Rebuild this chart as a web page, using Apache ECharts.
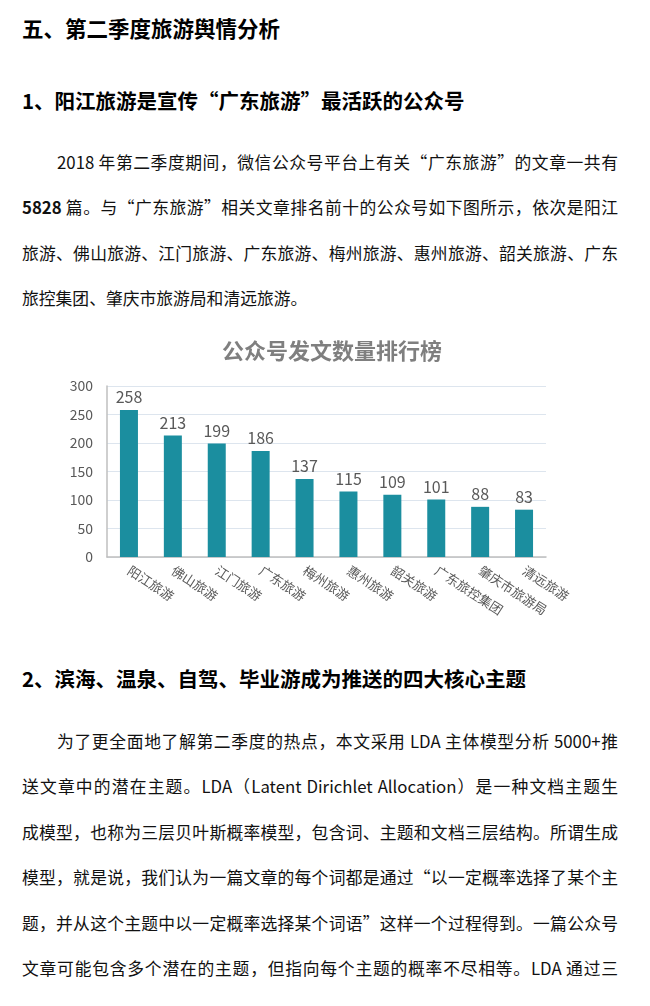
<!DOCTYPE html>
<html>
<head>
<meta charset="utf-8">
<title>第二季度旅游舆情分析</title>
<script src="https://cdn.jsdelivr.net/npm/echarts@6/dist/echarts.min.js"></script>
<style>
  html, body { margin: 0; padding: 0; background: #fff; }
  body { width: 650px; height: 1006px; position: relative; overflow: hidden;
         font-family: "Noto Sans CJK SC", "Noto Sans", sans-serif; color: #111; }
  .h1 { position: absolute; left: 22px; top: 13px; font-size: 21.5px; font-weight: bold; line-height: 30px; color: #000; }
  .h2 { position: absolute; left: 22px; font-size: 20.5px; font-weight: bold; line-height: 30px; color: #000; }
  .para { position: absolute; left: 22px; width: 596px; font-size: 16.8px; line-height: 45.4px; }
  .para div { text-align: justify; text-align-last: justify; white-space: nowrap; }
  .para div.first { padding-left: 35px; }
  .para div.last { text-align-last: left; }
  #chart { position: absolute; left: 0; top: 330px; width: 650px; height: 320px; }
</style>
</head>
<body>

<div class="h1">五、第二季度旅游舆情分析</div>
<div class="h2" style="top:85px">1、阳江旅游是宣传“广东旅游”最活跃的公众号</div>

<div class="para" style="top:140px">
  <div class="first">2018 年第二季度期间，微信公众号平台上有关“广东旅游”的文章一共有</div>
  <div><b>5828</b> 篇。与“广东旅游”相关文章排名前十的公众号如下图所示，依次是阳江</div>
  <div>旅游、佛山旅游、江门旅游、广东旅游、梅州旅游、惠州旅游、韶关旅游、广东</div>
  <div class="last">旅控集团、肇庆市旅游局和清远旅游。</div>
</div>

<div id="chart"></div>

<div class="h2" style="top:663px">2、滨海、温泉、自驾、毕业游成为推送的四大核心主题</div>

<div class="para" style="top:719px">
  <div class="first">为了更全面地了解第二季度的热点，本文采用 LDA 主体模型分析 5000+推</div>
  <div>送文章中的潜在主题。LDA（Latent Dirichlet Allocation）是一种文档主题生</div>
  <div>成模型，也称为三层贝叶斯概率模型，包含词、主题和文档三层结构。所谓生成</div>
  <div>模型，就是说，我们认为一篇文章的每个词都是通过“以一定概率选择了某个主</div>
  <div>题，并从这个主题中以一定概率选择某个词语”这样一个过程得到。一篇公众号</div>
  <div>文章可能包含多个潜在的主题，但指向每个主题的概率不尽相等。LDA 通过三</div>
</div>

<script>
// 公众号发文数量排行榜
var accounts = ['阳江旅游', '佛山旅游', '江门旅游', '广东旅游', '梅州旅游',
                '惠州旅游', '韶关旅游', '广东旅控集团', '肇庆市旅游局', '清远旅游']
var postCounts = [258, 213, 199, 186, 137, 115, 109, 101, 88, 83]
var yTicks = [0, 50, 100, 150, 200, 250, 300]

var chart = echarts.init(document.getElementById('chart'))

var option = {
  animation: false,
  title: {
    text: '公众号发文数量排行榜',
    left: 222,
    top: 10,
    padding: 0,
    textStyle: {
      fontFamily: 'Noto Sans CJK SC',
      fontSize: 22,
      fontWeight: 'bold',
      color: '#7f7f7f'
    }
  },
  grid: {
    left: 107,
    right: 104,
    top: 56,
    height: 171,
    containLabel: false
  },
  xAxis: {
    type: 'category',
    data: accounts,
    axisLine: { lineStyle: { color: '#bfbfbf', width: 1.5 } },
    axisTick: { show: false },
    axisLabel: {
      interval: 0,
      rotate: -33,
      margin: 12,
      fontFamily: 'Noto Sans CJK SC',
      fontSize: 13,
      color: '#595959'
    }
  },
  yAxis: {
    type: 'value',
    min: yTicks[0],
    max: yTicks[yTicks.length - 1],
    interval: yTicks[1] - yTicks[0],
    axisLine: { show: true, lineStyle: { color: '#bfbfbf', width: 1.5 } },
    axisTick: { show: false },
    axisLabel: {
      margin: 14,
      fontFamily: 'Noto Sans CJK SC',
      fontSize: 14,
      color: '#595959'
    },
    splitLine: { lineStyle: { color: '#dde5ee', width: 1 } }
  },
  series: [
    {
      name: '发文数量',
      type: 'bar',
      data: postCounts,
      barWidth: 18,
      itemStyle: { color: '#1b8e9f' },
      label: {
        show: true,
        position: 'top',
        distance: 5,
        fontFamily: 'Noto Sans CJK SC',
        fontSize: 16,
        color: '#595959'
      }
    }
  ]
}

chart.setOption(option)
</script>
</body>
</html>
